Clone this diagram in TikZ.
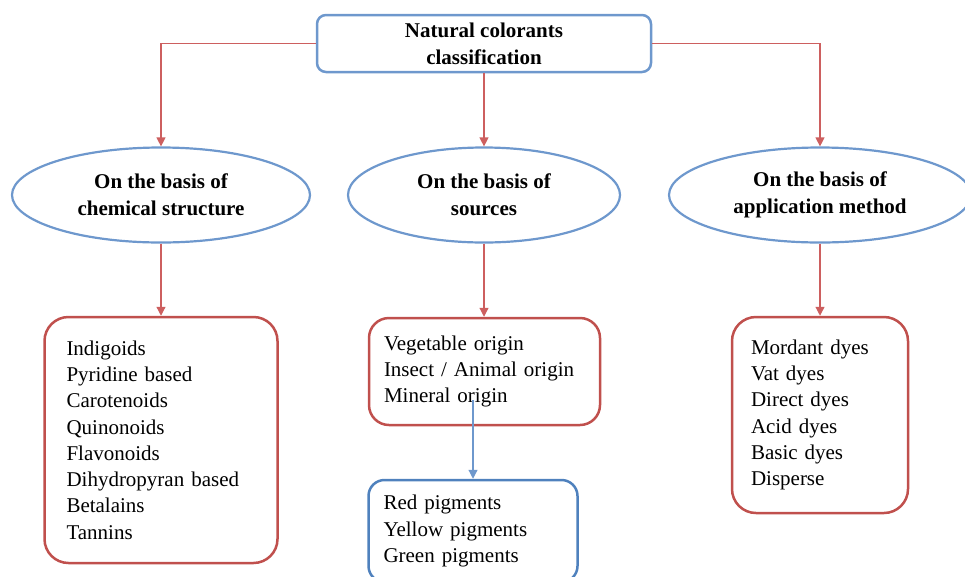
\documentclass[tikz,border=0pt]{standalone}
\usepackage{fontspec}
\setmainfont{Liberation Serif}
\usetikzlibrary{shapes.geometric,arrows.meta}
\definecolor{lblue}{RGB}{110,152,205}
\definecolor{dblue}{RGB}{79,129,189}
\definecolor{bred}{RGB}{192,80,77}
\definecolor{ared}{RGB}{205,95,95}
\tikzset{
  headtext/.style={font=\fontsize{21}{27}\selectfont\bfseries, align=center, text=black},
  listtext/.style={font=\fontsize{21}{26.3}\selectfont, align=left, text=black},
  topbox/.style={headtext, draw=lblue, line width=2.5pt, rounded corners=9pt, minimum width=334pt, minimum height=57pt, inner sep=0pt},
  oval/.style={headtext, ellipse, draw=lblue, line width=2.2pt, inner sep=0pt},
  redbox/.style={listtext, draw=bred, line width=2.5pt, rounded corners=24pt},
  bluebox/.style={listtext, draw=dblue, line width=2.5pt, rounded corners=16pt},
  conn/.style={draw=ared, line width=1.2pt, -{Triangle[length=9pt,width=9pt]}},
  bconn/.style={draw=lblue, line width=1.2pt, -{Triangle[length=9pt,width=9pt]}}
}
\begin{document}
\begin{tikzpicture}[x=1pt,y=-1pt]
\useasboundingbox (0,0) rectangle (965,576);
\clip (0,0) rectangle (965,576);

\node[topbox] (root) at (484,43.5) {Natural colorants\\classification};

\node[oval, minimum width=298pt, minimum height=95pt] (chem) at (161,195) {On the basis of\\chemical structure};
\node[oval, minimum width=272pt, minimum height=95pt] (src) at (484,195) {On the basis of\\sources};
\node[oval, minimum width=302pt, minimum height=95pt] (app) at (820,195) {On the basis of\\application method};

\node[redbox, text width=189pt, inner xsep=22pt, minimum height=246pt] (listL) at (161,440)
  {Indigoids\\Pyridine based\\Carotenoids\\Quinonoids\\Flavonoids\\Dihydropyran based\\Betalains\\Tannins};
\node[redbox, rounded corners=20pt, text width=201pt, inner xsep=15pt, minimum height=107pt] (listM) at (484.5,371.5)
  {Vegetable origin\\Insect / Animal origin\\Mineral origin};
\node[redbox, text width=138pt, inner xsep=19pt, minimum height=196pt] (listR) at (820,415)
  {Mordant dyes\\Vat dyes\\Direct dyes\\Acid dyes\\Basic dyes\\Disperse};
\node[bluebox, text width=179pt, inner xsep=15pt, minimum height=102pt] (listB) at (473,531)
  {Red pigments\\Yellow pigments\\Green pigments};

\draw[conn] (root.west) -| (chem.north);
\draw[conn] (root.south) -- (src.north);
\draw[conn] (root.east) -| (app.north);
\draw[conn] (chem.south) -- (chem.south |- listL.north);
\draw[conn] (src.south) -- (src.south |- listM.north);
\draw[conn] (app.south) -- (listR.north);
\coordinate (bstart) at (473,400);
\draw[bconn] (bstart) -- (listB.north);
\end{tikzpicture}
\end{document}
